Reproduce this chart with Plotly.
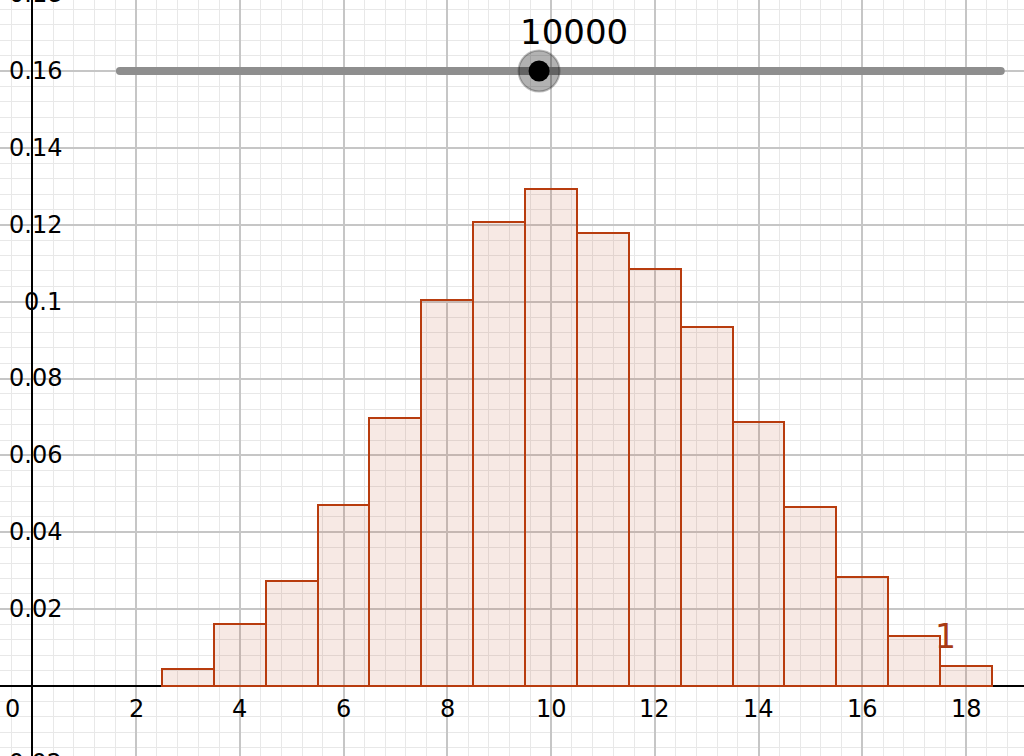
import plotly.graph_objects as go

# ---- data ----
bin_centers = [3, 4, 5, 6, 7, 8, 9, 10, 11, 12, 13, 14, 15, 16, 17, 18]
bin_heights = [0.0044, 0.0161, 0.0273, 0.0470, 0.0696, 0.1003, 0.1208, 0.1294,
               0.1179, 0.1086, 0.0935, 0.0688, 0.0465, 0.0283, 0.0130, 0.0052]
bin_width = 1

x_tick_vals = [0, 2, 4, 6, 8, 10, 12, 14, 16, 18]
x_tick_text = ["0", "2", "4", "6", "8", "10", "12", "14", "16", "18"]
y_tick_vals = [-0.02, 0.02, 0.04, 0.06, 0.08, 0.1, 0.12, 0.14, 0.16, 0.18]
y_tick_text = ["-0.02", "0.02", "0.04", "0.06", "0.08", "0.1", "0.12", "0.14", "0.16", "0.18"]

slider_min_x = 1.69
slider_max_x = 18.67
slider_knob_x = 9.77
slider_y = 0.16
slider_label = "10000"

point_label = "1"
point_label_x = 17.6
point_label_y = 0.013

x_range = [-0.6217, 19.118]
y_range = [-0.01821, 0.17847]

FONT = "DejaVu Sans"
BAR_LINE = "#b83c0e"
TICK_SIZE = 24

fig = go.Figure()

fig.add_trace(go.Bar(
    x=bin_centers, y=bin_heights, width=bin_width,
    marker=dict(color="rgba(190,70,30,0.12)", line=dict(color=BAR_LINE, width=2)),
    hoverinfo="skip", showlegend=False,
))

# slider track
fig.add_trace(go.Scatter(
    x=[slider_min_x, slider_max_x], y=[slider_y, slider_y],
    mode="lines+markers",
    line=dict(color="#8e8e8e", width=8),
    marker=dict(color="#8e8e8e", size=8, line=dict(width=0)),
    hoverinfo="skip", showlegend=False, cliponaxis=False,
))
# knob halo
fig.add_trace(go.Scatter(
    x=[slider_knob_x], y=[slider_y], mode="markers",
    marker=dict(size=41, color="rgba(0,0,0,0.3)", line=dict(color="rgba(0,0,0,0.25)", width=2)),
    hoverinfo="skip", showlegend=False,
))
# knob dot
fig.add_trace(go.Scatter(
    x=[slider_knob_x], y=[slider_y], mode="markers",
    marker=dict(size=21, color="black", line=dict(width=0)),
    hoverinfo="skip", showlegend=False,
))


def y_to_paper(v):
    return (v - y_range[0]) / (y_range[1] - y_range[0])


annotations = []
for v, t in zip(x_tick_vals, x_tick_text):
    if v == 0:
        annotations.append(dict(x=v, y=0, xref="x", yref="y", text=t, showarrow=False,
                                xanchor="right", yanchor="top", xshift=-10, yshift=-7,
                                font=dict(family=FONT, size=TICK_SIZE, color="black")))
    else:
        annotations.append(dict(x=v, y=0, xref="x", yref="y", text=t, showarrow=False,
                                xanchor="center", yanchor="top", yshift=-7,
                                font=dict(family=FONT, size=TICK_SIZE, color="black")))
for v, t in zip(y_tick_vals, y_tick_text):
    annotations.append(dict(x=64 / 1024, y=y_to_paper(v), xref="paper", yref="paper", text=t,
                            showarrow=False, xanchor="right", yanchor="middle",
                            font=dict(family=FONT, size=TICK_SIZE, color="black")))

annotations.append(dict(x=slider_knob_x, y=slider_y, xref="x", yref="y", text=slider_label,
                        showarrow=False, xanchor="left", yanchor="middle", xshift=-21, yshift=39,
                        font=dict(family=FONT, size=34, color="black")))
annotations.append(dict(x=point_label_x, y=point_label_y, xref="x", yref="y", text=point_label,
                        showarrow=False, xanchor="center", yanchor="middle",
                        font=dict(family=FONT, size=33, color="#a83a14")))

fig.update_layout(
    width=1024, height=756,
    margin=dict(l=0, r=0, t=0, b=0, autoexpand=False),
    paper_bgcolor="white", plot_bgcolor="white",
    bargap=0,
    annotations=annotations,
    xaxis=dict(range=x_range, showticklabels=False, ticks="",
               dtick=2, tick0=0, showgrid=True, gridcolor="#c6c6c6", gridwidth=2,
               minor=dict(dtick=0.4, tick0=0, showgrid=True, gridcolor="#e8e8e8", gridwidth=1),
               zeroline=True, zerolinecolor="black", zerolinewidth=1.5, showline=False),
    yaxis=dict(range=y_range, showticklabels=False, ticks="",
               dtick=0.02, tick0=0, showgrid=True, gridcolor="#c6c6c6", gridwidth=2,
               minor=dict(dtick=0.004, tick0=0, showgrid=True, gridcolor="#e8e8e8", gridwidth=1),
               zeroline=True, zerolinecolor="black", zerolinewidth=1.5, showline=False),
)

fig.write_html("out.html", config={"displayModeBar": False},
               post_script="document.body.style.margin='0';document.body.style.overflow='hidden';")
